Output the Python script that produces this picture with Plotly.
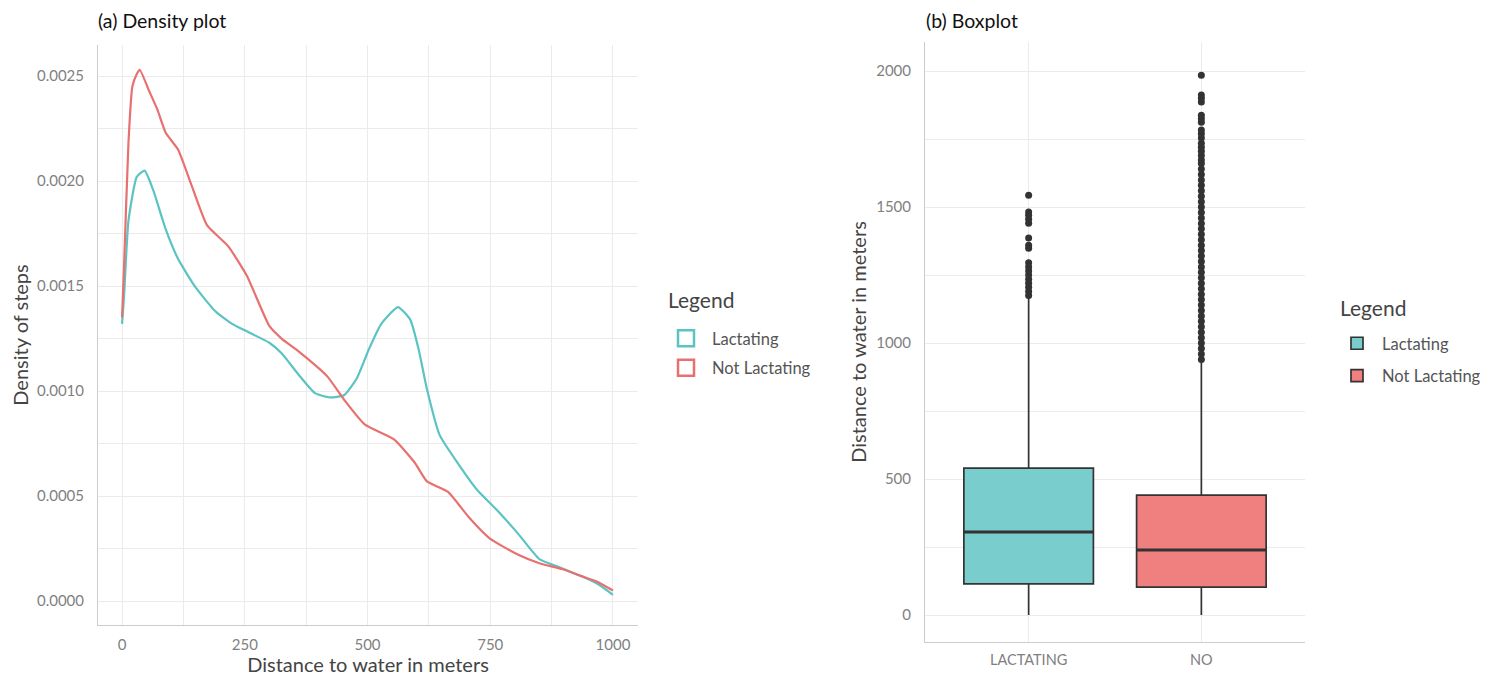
import plotly.graph_objects as go

# ---------------- Density data ----------------
dist_not = [0, 4, 13, 21, 30, 36, 55, 72, 89, 114, 140, 173, 216, 254, 300, 325, 359, 418, 452, 495,
            554, 596, 621, 664, 706, 748, 807, 850, 900, 934, 970, 1000]
dens_not = [0.00135, 0.00159, 0.00218, 0.00245, 0.00251, 0.00253, 0.00243, 0.00234, 0.00223, 0.00215,
            0.00199, 0.00179, 0.00169, 0.00155, 0.00131, 0.00125, 0.00119, 0.00107, 0.00096, 0.00084,
            0.00077, 0.00066, 0.00057, 0.00052, 0.00040, 0.00030, 0.00022, 0.00018, 0.00015, 0.00012,
            0.00009, 0.00005]

dist_lac = [0, 4, 13, 30, 46, 63, 89, 114, 148, 190, 224, 258, 300, 325, 359, 393, 423, 452, 478, 503,
            528, 562, 587, 604, 621, 647, 680, 723, 765, 807, 850, 892, 934, 970, 1000]
dens_lac = [0.00132, 0.00145, 0.00181, 0.00202, 0.00205, 0.00196, 0.00177, 0.00163, 0.00150, 0.00138,
            0.00132, 0.00128, 0.00123, 0.00118, 0.00108, 0.00099, 0.00097, 0.00098, 0.00106, 0.00120,
            0.00132, 0.00140, 0.00134, 0.00120, 0.00101, 0.00079, 0.00067, 0.00053, 0.00043, 0.00032,
            0.00020, 0.00016, 0.00012, 0.00008, 0.00003]

# ---------------- Boxplot data ----------------
box_categories = ["LACTATING", "NO"]
box_names = ["Lactating", "Not Lactating"]
box_q1 = [115, 103]
box_median = [305, 239]
box_q3 = [540, 441]
box_low = [0, 0]
box_high = [1170, 937]

out_lac = [1175, 1190, 1205, 1220, 1235, 1250, 1265, 1280, 1295,
           1349, 1360, 1386, 1441, 1455, 1470, 1482, 1544]
out_no = [940, 960, 980, 1000, 1020, 1040, 1060, 1080, 1100, 1120, 1140, 1160, 1180, 1200,
          1220, 1240, 1260, 1280, 1300, 1320, 1340, 1360, 1380, 1400, 1420, 1440, 1460, 1480,
          1500, 1520, 1540, 1560, 1580, 1600, 1620, 1640, 1660,
          1673, 1690, 1705, 1720, 1735, 1754, 1770, 1783, 1812, 1825, 1838, 1886, 1900, 1912, 1985]

teal_line = "#5CC3C3"
red_line = "#E8706F"
teal_fill = "#79CDCD"
red_fill = "#F08080"
dark = "#333333"
FONT = "Lato"

# page is drawn with an 8px body margin
OFF = 8
W, H = 1497 - OFF, 676 - OFF


def px(x):
    return (x - OFF) / W


def py(y):
    return 1 - (y - OFF) / H


fig = go.Figure()

fig.add_trace(go.Scatter(x=dist_lac, y=dens_lac, mode="lines",
                         line=dict(color=teal_line, width=2.2, shape="spline", smoothing=0.5),
                         showlegend=False, xaxis="x", yaxis="y"))
fig.add_trace(go.Scatter(x=dist_not, y=dens_not, mode="lines",
                         line=dict(color=red_line, width=2.2, shape="spline", smoothing=0.5),
                         showlegend=False, xaxis="x", yaxis="y"))
fig.add_trace(go.Scatter(x=[None], y=[None], mode="markers", name="Lactating", legend="legend", legendgroup="a1",
                         marker=dict(symbol="square-open", size=20, color=teal_line, line=dict(width=2.5, color=teal_line)),
                         xaxis="x", yaxis="y"))
fig.add_trace(go.Scatter(x=[None], y=[None], mode="markers", name="Not Lactating", legend="legend", legendgroup="a2",
                         marker=dict(symbol="square-open", size=20, color=red_line, line=dict(width=2.5, color=red_line)),
                         xaxis="x", yaxis="y"))

fills = [teal_fill, red_fill]
outs = [out_lac, out_no]
for i in range(2):
    fig.add_trace(go.Box(x=[box_categories[i]], q1=[box_q1[i]], median=[box_median[i]], q3=[box_q3[i]],
                         lowerfence=[box_low[i]], upperfence=[box_high[i]], name=box_names[i],
                         legendgroup="b%d" % i,
                         fillcolor=fills[i], line=dict(color=dark, width=1.7), width=0.75, whiskerwidth=0,
                         boxpoints=False, legend="legend2", xaxis="x2", yaxis="y2"))
# thicker median bars (collapsed boxes at the median)
for i in range(2):
    fig.add_trace(go.Box(x=[box_categories[i]], q1=[box_median[i]], median=[box_median[i]], q3=[box_median[i]],
                         lowerfence=[box_median[i]], upperfence=[box_median[i]],
                         fillcolor="rgba(0,0,0,0)", line=dict(color=dark, width=3), width=0.75, whiskerwidth=0,
                         boxpoints=False, showlegend=False, hoverinfo="skip", xaxis="x2", yaxis="y2"))
for i in range(2):
    fig.add_trace(go.Scatter(x=[box_categories[i]] * len(outs[i]), y=outs[i], mode="markers",
                             marker=dict(color=dark, size=7), showlegend=False, xaxis="x2", yaxis="y2"))

grid = "#EBEBEB"
axline = "#CCCCCC"
tickfont = dict(family=FONT, size=15, color="#7F7F7F")
titlefont = dict(family=FONT, size=20, color="#444444")
legend_title_font = dict(family=FONT, size=21, color="#444444")

fig.update_layout(
    width=W, height=H,
    margin=dict(l=0, r=0, t=0, b=0),
    paper_bgcolor="white", plot_bgcolor="white",
    font=dict(family=FONT, color="#444444"),
    boxmode="overlay",
    xaxis=dict(domain=[px(98), px(638)], range=[-49, 1051], tickvals=[0, 250, 500, 750, 1000],
               showgrid=True, gridcolor=grid, gridwidth=1, zeroline=False,
               minor=dict(dtick=125, tick0=0, showgrid=True, gridcolor=grid),
               showline=True, linecolor=axline, linewidth=1,
               tickfont=tickfont, ticks="", ticklabelstandoff=6,
               title=dict(text="Distance to water in meters", font=titlefont, standoff=2), anchor="y"),
    yaxis=dict(domain=[py(625), py(45)], range=[-0.000114, 0.002648],
               tickvals=[0, 0.0005, 0.001, 0.0015, 0.002, 0.0025], tickformat=".4f",
               showgrid=True, gridcolor=grid, zeroline=False,
               minor=dict(dtick=0.00025, tick0=0, showgrid=True, gridcolor=grid),
               showline=True, linecolor=axline, linewidth=1,
               tickfont=tickfont, ticks="", ticklabelstandoff=10,
               title=dict(text="Density of steps", font=titlefont, standoff=4), anchor="x"),
    xaxis2=dict(domain=[px(925), px(1305)], range=[-0.6, 1.6], type="category",
                categoryorder="array", categoryarray=box_categories,
                showgrid=True, gridcolor=grid, zeroline=False,
                showline=True, linecolor=axline, linewidth=1,
                tickfont=dict(family=FONT, size=14.5, color="#7F7F7F"), ticks="", ticklabelstandoff=5,
                anchor="y2"),
    yaxis2=dict(domain=[py(642), py(42)], range=[-99, 2107], tickvals=[0, 500, 1000, 1500, 2000],
                showgrid=True, gridcolor=grid, zeroline=False,
                minor=dict(dtick=250, tick0=0, showgrid=True, gridcolor=grid),
                showline=True, linecolor=axline, linewidth=1,
                tickfont=tickfont, ticks="", ticklabelstandoff=10,
                title=dict(text="Distance to water in meters", font=titlefont, standoff=4), anchor="x2"),
    legend=dict(x=px(660), y=py(321), xanchor="left", yanchor="top",
                font=dict(family=FONT, size=16.5, color="#555555"), bgcolor="rgba(0,0,0,0)",
                tracegroupgap=5, itemsizing="trace", itemwidth=42),
    legend2=dict(x=px(1332), y=py(326), xanchor="left", yanchor="top",
                 font=dict(family=FONT, size=16.5, color="#555555"), bgcolor="rgba(0,0,0,0)",
                 tracegroupgap=8, itemwidth=40),
    annotations=[
        dict(text="(a) Density plot", x=px(96), y=py(20), xref="paper", yref="paper",
             xanchor="left", yanchor="middle", showarrow=False, font=dict(family=FONT, size=19.5, color="#111111")),
        dict(text="(b) Boxplot", x=px(924), y=py(20), xref="paper", yref="paper",
             xanchor="left", yanchor="middle", showarrow=False, font=dict(family=FONT, size=19.5, color="#111111")),
        dict(text="Legend", x=px(666), y=py(299), xref="paper", yref="paper",
             xanchor="left", yanchor="middle", showarrow=False, font=legend_title_font),
        dict(text="Legend", x=px(1338), y=py(307), xref="paper", yref="paper",
             xanchor="left", yanchor="middle", showarrow=False, font=legend_title_font),
    ],
)

fig.write_html("out.html")
